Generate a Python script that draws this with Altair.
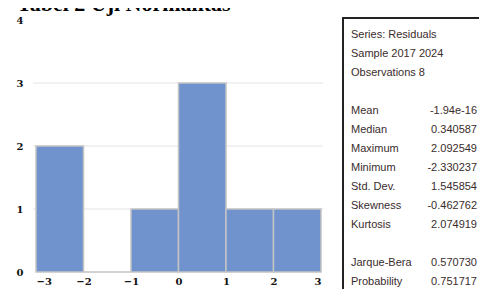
import altair as alt
import pandas as pd

# ---- data ----
bin_start = [-3, -2, -1, 0, 1, 2]
bin_end = [-2, -1, 0, 1, 2, 3]
counts = [2, 0, 1, 3, 1, 1]

title_text = "Tabel 2 Uji Normalitas"
header_lines = ["Series: Residuals", "Sample 2017 2024", "Observations 8"]
stat_labels = ["Mean", "Median", "Maximum", "Minimum", "Std. Dev.",
               "Skewness", "Kurtosis", "Jarque-Bera", "Probability"]
stat_values = ["-1.94e-16", "0.340587", "2.092549", "-2.330237", "1.545854",
               "-0.462762", "2.074919", "0.570730", "0.751717"]
x_ticks = [-3, -2, -1, 0, 1, 2, 3]
y_ticks = [0, 1, 2, 3, 4]
grid_levels = [1, 2, 3]

# ---- tables ----
bars = pd.DataFrame({"start": bin_start, "end": bin_end, "count": counts})
grid = pd.DataFrame({"level": grid_levels})

stat_lines = list(range(4, 11)) + [12, 13]
txt_rows = []
for i, h in enumerate(header_lines):
    txt_rows.append({"line": i, "label": h, "value": ""})
for ln, lab, val in zip(stat_lines, stat_labels, stat_values):
    txt_rows.append({"line": ln, "label": lab, "value": val})
txt = pd.DataFrame(txt_rows)

PLOT_W = 285
H = 252
W = 443

xscale = alt.Scale(domain=[-3, 3], range=[0, PLOT_W], nice=False, zero=False)
yscale = alt.Scale(domain=[0, 4], nice=False)

axis_font = "DejaVu Serif"

grid_layer = alt.Chart(grid).mark_rule(color="#e4e4e4", strokeWidth=1).encode(
    y=alt.Y("level:Q", scale=yscale, axis=None),
    x=alt.value(-3),
    x2=alt.value(PLOT_W + 2),
)

bar_layer = alt.Chart(bars).mark_rect(
    color="#7093cd", stroke="#c4c4c4", strokeWidth=1.5
).encode(
    x=alt.X("start:Q", scale=xscale,
            axis=alt.Axis(values=x_ticks, format="d", title=None, domain=False,
                          ticks=False, tickSize=0, grid=False, labelPadding=4,
                          labelFont=axis_font, labelFontWeight="bold",
                          labelFontSize=10, labelColor="#111")),
    x2="end:Q",
    y=alt.Y("count:Q", scale=yscale,
            axis=alt.Axis(values=y_ticks, format="d", title=None, domain=False,
                          ticks=False, tickSize=0, grid=False, labelPadding=13,
                          labelFont=axis_font, labelFontWeight="bold",
                          labelFontSize=10, labelColor="#111")),
    y2=alt.datum(0),
)

title_layer = alt.Chart(pd.DataFrame({"t": [title_text]})).mark_text(
    font="Liberation Serif", fontSize=22, fontWeight="bold", align="left",
    baseline="alphabetic", color="#000"
).encode(x=alt.value(-19), y=alt.value(-9), text="t:N")

box_layer = alt.Chart(pd.DataFrame({"a": [0]})).mark_rect(
    fill=None, stroke="#222", strokeWidth=2
).encode(x=alt.value(307), x2=alt.value(700), y=alt.value(-2), y2=alt.value(600))

txt_base = alt.Chart(txt).transform_calculate(
    py="15 + datum.line * 19"
)
label_layer = txt_base.mark_text(
    font="Liberation Sans", fontSize=11, align="left", baseline="middle",
    color="#3a2c2c"
).encode(x=alt.value(315), y=alt.Y("py:Q", scale=None, axis=None), text="label:N")
value_layer = txt_base.mark_text(
    font="Liberation Sans", fontSize=11, align="right", baseline="middle",
    color="#3a2c2c"
).encode(x=alt.value(441), y=alt.Y("py:Q", scale=None, axis=None), text="value:N")

chart = alt.layer(
    grid_layer, bar_layer, title_layer, box_layer, label_layer, value_layer
).resolve_scale(y="independent").properties(
    width=W, height=H,
    autosize=alt.AutoSizeParams(type="none"),
    padding={"left": 28, "top": 12, "right": 0, "bottom": 17},
).configure(background="white").configure_view(stroke=None)

chart.save("out.html", embed_options={"renderer": "svg", "actions": False})
